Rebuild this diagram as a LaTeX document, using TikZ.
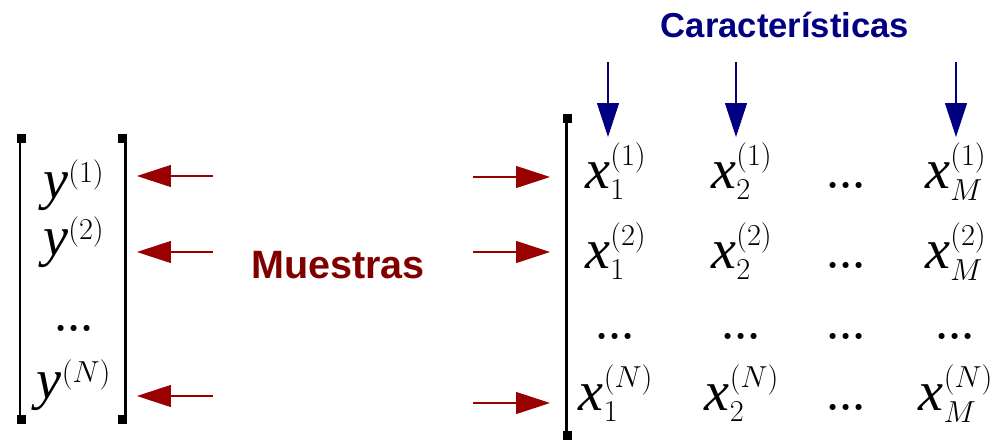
\documentclass[tikz,border=0pt]{standalone}
\usepackage{amsmath}
\usepackage{fontspec}
\usepackage{tikz}
\usetikzlibrary{arrows.meta}
\newfontfamily\labelfont{Liberation Sans}
\newfontfamily\varfont{Liberation Serif}
\newcommand{\var}[1]{\text{\varfont\itshape #1}}
\definecolor{arrowred}{HTML}{990000}
\definecolor{textred}{HTML}{800000}
\definecolor{navy}{HTML}{000080}
\DeclareMathSizes{32}{32}{17}{12}

\begin{document}
\begin{tikzpicture}[x=0.02cm, y=-0.02cm,
		entry/.style={font=\fontsize{32}{38}\selectfont, anchor=base, inner sep=0pt},
		dots/.style={font=\fontsize{24}{28}\selectfont\bfseries, anchor=base, inner sep=0pt},
		redarrow/.style={draw=arrowred, line width=0.6pt, -{Triangle[length=0.68cm, width=0.44cm]}},
		bluearrow/.style={draw=navy, line width=0.6pt, -{Triangle[length=0.68cm, width=0.44cm]}},
		bracket/.style={line width=0.06cm},
		label/.style={anchor=base}]
		\useasboundingbox (0, 0) rectangle (997, 440);
		% vector y
		\draw[bracket] (20, 135) -- (20, 423);
		\fill (17, 134) rectangle (26, 143);
		\fill (17, 415) rectangle (26, 424);
		\draw[bracket] (125, 135) -- (125, 423);
		\fill (118, 134) rectangle (127, 143);
		\fill (118, 415) rectangle (127, 424);
		\node[entry] (y1) at (74, 198) {$\var{y}^{(1)}$};
		\node[entry] (y2) at (74, 255) {$\var{y}^{(2)}$};
		\node[dots] (ydots) at (74, 331) {...};
		\node[entry] (yN) at (74, 398) {$\var{y}^{(N)}$};
		% matrix X
		\draw[bracket] (566, 115) -- (566, 440);
		\fill (563, 114) rectangle (572, 123);
		\fill (563, 431) rectangle (572, 440);
		\node[entry] (x11) at (616, 188) {$\var{x}_1^{(1)}$};
		\node[entry] (x21) at (742, 188) {$\var{x}_2^{(1)}$};
		\node[dots] (xd1) at (846, 188) {...};
		\node[entry] (xM1) at (956, 188) {$\var{x}_M^{(1)}$};
		\node[entry] (x12) at (616, 268) {$\var{x}_1^{(2)}$};
		\node[entry] (x22) at (742, 268) {$\var{x}_2^{(2)}$};
		\node[dots] (xd2) at (846, 268) {...};
		\node[entry] (xM2) at (956, 268) {$\var{x}_M^{(2)}$};
		\node[dots] (x1d) at (615, 339) {...};
		\node[dots] (x2d) at (741, 339) {...};
		\node[dots] (xdd) at (846, 339) {...};
		\node[dots] (xMd) at (955, 339) {...};
		\node[entry] (x1N) at (616, 410) {$\var{x}_1^{(N)}$};
		\node[entry] (x2N) at (742, 410) {$\var{x}_2^{(N)}$};
		\node[dots] (xdN) at (846, 410) {...};
		\node[entry] (xMN) at (956, 410) {$\var{x}_M^{(N)}$};
		% labels
		\node[label, text=textred, font={\labelfont\bfseries\fontsize{22.5}{26}\selectfont}] (muestras) at (338, 278) {Muestras};
		\node[label, text=navy, font={\labelfont\bfseries\fontsize{19.7}{23}\selectfont}] (caract) at (785, 37) {Características};
		% arrows to the rows
		\coordinate (ls1) at (213, 176);
		\coordinate (le1) at (137, 176);
		\coordinate (ls2) at (213, 252);
		\coordinate (le2) at (137, 252);
		\coordinate (lsN) at (213, 396);
		\coordinate (leN) at (137, 396);
		\draw[redarrow] (ls1) -- (le1);
		\draw[redarrow] (ls2) -- (le2);
		\draw[redarrow] (lsN) -- (leN);
		\coordinate (rs1) at (473, 177);
		\coordinate (re1) at (550, 177);
		\coordinate (rs2) at (473, 252);
		\coordinate (re2) at (550, 252);
		\coordinate (rsN) at (473, 403);
		\coordinate (reN) at (550, 403);
		\draw[redarrow] (rs1) -- (re1);
		\draw[redarrow] (rs2) -- (re2);
		\draw[redarrow] (rsN) -- (reN);
		% arrows to the columns
		\coordinate (cs1) at (608, 62);
		\coordinate (ce1) at (608, 137);
		\coordinate (cs2) at (736, 62);
		\coordinate (ce2) at (736, 137);
		\coordinate (csM) at (956, 62);
		\coordinate (ceM) at (956, 137);
		\draw[bluearrow] (cs1) -- (ce1);
		\draw[bluearrow] (cs2) -- (ce2);
		\draw[bluearrow] (csM) -- (ceM);
	\end{tikzpicture}
\end{document}
